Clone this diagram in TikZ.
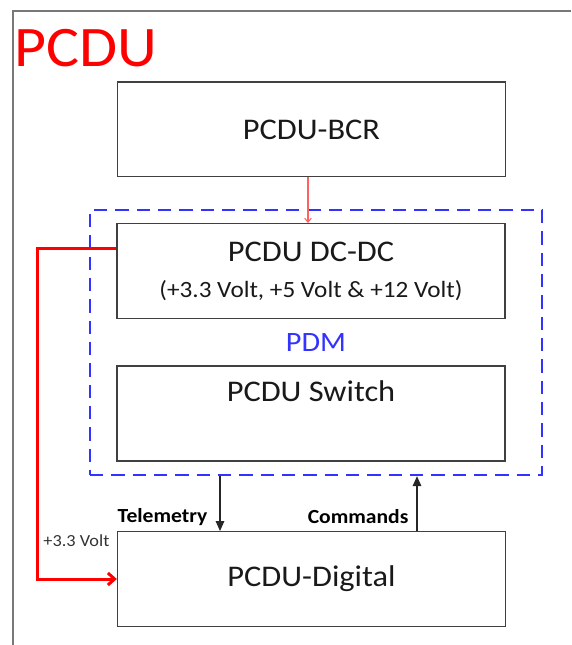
\documentclass[tikz,border=0pt]{standalone}
\usepackage{fontspec}
\setmainfont[FakeStretch=1.08]{Carlito}
\usepackage{tikz}
\usetikzlibrary{arrows.meta,positioning,calc}
\definecolor{pdmblue}{RGB}{51,51,255}
\definecolor{framegray}{RGB}{120,120,120}
\definecolor{boxgray}{RGB}{64,64,64}
\definecolor{feedred}{RGB}{255,96,96}

\begin{document}
\begin{tikzpicture}[
  x=0.75pt, y=-0.75pt,
  block/.style={draw=boxgray, line width=1pt, minimum width=291pt, minimum height=71pt,
    inner sep=0pt, align=center, font=\fontsize{22.5}{27}\selectfont, text=black!90},
  group/.style={draw=pdmblue, line width=1.5pt, dash pattern=on 10pt off 6pt,
    minimum width=339pt, minimum height=199pt, inner sep=0pt, text=pdmblue,
    font=\fontsize{21}{25}\selectfont},
  sig/.style={-{Triangle[length=7.5pt,width=6.5pt]}, line width=0.8pt, draw=black!85},
  power/.style={-{Straight Barb[length=5pt,width=9pt]}, line width=2.25pt, draw=red},
  feed/.style={-{Straight Barb[length=3pt,width=5pt]}, line width=0.8pt, draw=feedred},
  tag/.style={font=\bfseries\fontsize{15}{18}\selectfont, inner sep=1pt, anchor=east}
]
\useasboundingbox (0,0) rectangle (571,645);

% ================= Frame =================
\draw[framegray, line width=1.5pt] (13,645) -- (13,11) -- (571,11);
\node[anchor=west, inner sep=0pt, text=red, font=\fontsize{43}{50}\selectfont] (title) at (14,48) {PCDU};

% ================= Blocks =================
\node[block] (bcr) at (311.5,129.5) {PCDU-BCR};
\node[group] (pdm) at (316,342.5) {PDM};
\node[block] (dcdc) at (311,271) {PCDU DC-DC\\[0pt]{\fontsize{17.5}{21}\selectfont (+3.3 Volt, +5 Volt \& +12 Volt)}};
\node[block, minimum height=0pt, text height=26.25pt, text depth=45pt] (switch) at (311,413.5) {PCDU Switch};
\node[block] (digital) at (311.5,579) {PCDU-Digital};

% ================= Connectors =================
\coordinate (tlmx) at (220,0);
\coordinate (cmdx) at (417,0);

\draw[feed] (bcr.south -| 308,0) -- (dcdc.north -| 308,0);
\draw[power] ([yshift=17pt]dcdc.west) -- ++(-79,0) |- (digital.west);
\draw[sig] (pdm.south -| tlmx) -- (digital.north -| tlmx);
\draw[sig] (digital.north -| cmdx) -- (pdm.south -| cmdx);

% ================= Labels =================
\node[tag] (tlm) at (209,517) {Telemetry};
\node[tag] (cmd) at (410,517) {Commands};
\node[anchor=east, inner sep=1pt, text=black!80, font=\fontsize{12.7}{15}\selectfont] (volt) at (111,541) {+3.3 Volt};

\end{tikzpicture}
\end{document}
